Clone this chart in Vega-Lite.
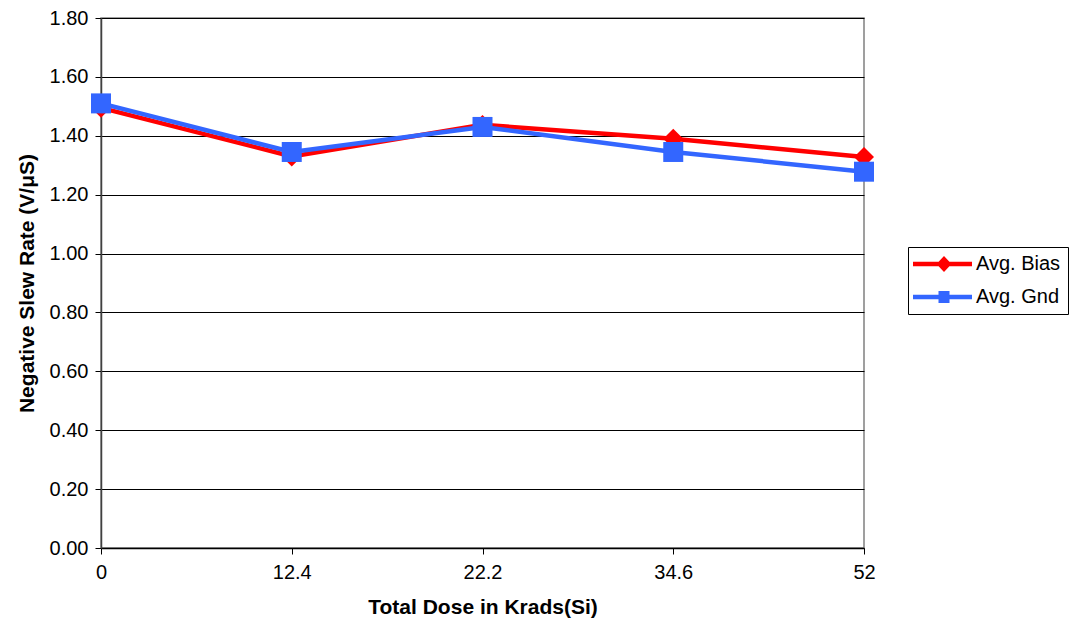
{
  "$schema": "https://vega.github.io/schema/vega-lite/v6.json",
  "width": 763,
  "height": 530,
  "autosize": {"type": "none"},
  "padding": {"left": 101, "top": 18, "right": 212, "bottom": 85},
  "background": "white",
  "config": {
    "font": "Liberation Sans",
    "view": {"stroke": "#808080", "strokeWidth": 1.5},
    "axis": {"labelFont": "Liberation Sans", "titleFont": "Liberation Sans", "labelColor": "black", "titleColor": "black", "domainColor": "black", "tickColor": "black", "gridColor": "black", "gridOpacity": 1, "titleFontWeight": "bold", "tickSize": 6, "labelFontSize": 20},
    "legend": {"title": null, "orient": "none", "legendX": 807, "legendY": 229, "strokeColor": "black", "padding": 7, "labelFontSize": 20, "labelColor": "black", "labelFont": "Liberation Sans", "symbolSize": 400, "symbolStrokeWidth": 0, "symbolOpacity": 1, "labelOffset": 41, "rowPadding": 13, "fillColor": "white"}
  },
  "data": {"values": [
    {"dose": "0", "series": "Avg. Bias", "rate": 1.495},
    {"dose": "12.4", "series": "Avg. Bias", "rate": 1.33},
    {"dose": "22.2", "series": "Avg. Bias", "rate": 1.437},
    {"dose": "34.6", "series": "Avg. Bias", "rate": 1.39},
    {"dose": "52", "series": "Avg. Bias", "rate": 1.328},
    {"dose": "0", "series": "Avg. Gnd", "rate": 1.51},
    {"dose": "12.4", "series": "Avg. Gnd", "rate": 1.345},
    {"dose": "22.2", "series": "Avg. Gnd", "rate": 1.43},
    {"dose": "34.6", "series": "Avg. Gnd", "rate": 1.345},
    {"dose": "52", "series": "Avg. Gnd", "rate": 1.278}
  ]},
  "encoding": {
    "x": {"field": "dose", "type": "ordinal", "sort": null,
      "scale": {"type": "point", "padding": 0, "domain": ["0", "12.4", "22.2", "34.6", "52"]},
      "axis": {"title": "Total Dose in Krads(Si)", "labelAngle": 0, "grid": false, "labelFontSize": 20, "titleFontSize": 21, "labelPadding": 8, "titlePadding": 14, "domainWidth": 1.5,
        "encode": {"labels": {"update": {"fontSize": {"value": 20}}}}}},
    "y": {"field": "rate", "type": "quantitative",
      "scale": {"domain": [0, 1.8], "nice": false, "zero": true},
      "axis": {"title": "Negative Slew Rate (V/μS)", "format": ".2f", "values": [0, 0.2, 0.4, 0.6, 0.8, 1.0, 1.2, 1.4, 1.6, 1.8], "grid": true, "labelFontSize": 20, "titleFontSize": 21, "labelPadding": 7, "titlePadding": 12, "domainWidth": 1.5, "domainColor": "#404040",
        "encode": {"labels": {"update": {"fontSize": {"value": 20}}}}}},
    "color": {"field": "series", "type": "nominal",
      "scale": {"domain": ["Avg. Bias", "Avg. Gnd"], "range": ["#FF0000", "#3366FF"]}}
  },
  "layer": [
    {"mark": {"type": "line", "strokeWidth": 4.5}},
    {"transform": [{"filter": "datum.series === 'Avg. Bias'"}],
     "mark": {"type": "point", "shape": "diamond", "filled": true, "opacity": 1, "size": 400}},
    {"transform": [{"filter": "datum.series === 'Avg. Gnd'"}],
     "mark": {"type": "point", "shape": "square", "filled": true, "opacity": 1, "size": 400}},
    {"transform": [{"filter": "datum.rate < 0"}],
     "mark": {"type": "point", "filled": true, "size": 400},
     "encoding": {
       "shape": {"field": "series", "type": "nominal",
         "scale": {"domain": ["Avg. Bias", "Avg. Gnd"], "range": [
           "M-1.2,-0.22H4.7V0.22H-1.2Z M1.9,-0.8L2.65,0L1.9,0.8L1.15,0Z",
           "M-1.2,-0.22H4.7V0.22H-1.2Z M1.35,-0.6H2.45V0.6H1.35Z"]}}
     }}
  ]
}
